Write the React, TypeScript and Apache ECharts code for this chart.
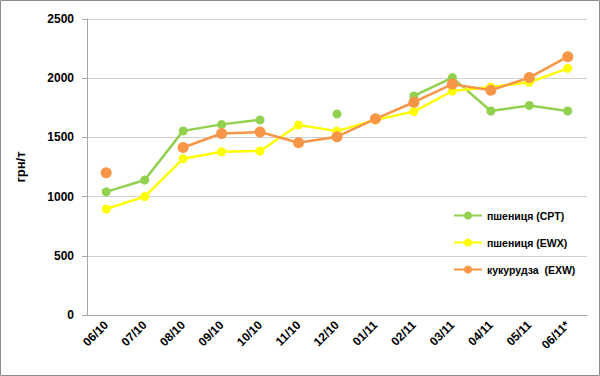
import React, { useEffect, useRef } from "react";
import * as echarts from "echarts";

const categories = ["06/10", "07/10", "08/10", "09/10", "10/10", "11/10", "12/10", "01/11", "02/11", "03/11", "04/11", "05/11", "06/11*"];
const wheatCPT: (number | null)[] = [1040, 1140, 1555, 1610, 1648, null, 1698, null, 1850, 2005, 1723, 1770, 1723];
const wheatEWX: (number | null)[] = [895, 1000, 1320, 1378, 1385, 1605, 1553, 1648, 1718, 1892, 1925, 1965, 2083];
const cornEXW: (number | null)[] = [1202, null, 1415, 1533, 1545, 1455, 1506, 1657, 1797, 1950, 1898, 2005, 2182];
const yTicks = { min: 0, max: 2500, interval: 500 };

export default function App() {
  const ref = useRef<HTMLDivElement>(null);
  useEffect(() => {
    if (!ref.current) return;
    const chart = echarts.init(ref.current, null, { renderer: "svg" });
    const font = "'Liberation Sans', Arial, sans-serif";
    chart.setOption({
      animation: false,
      backgroundColor: "#ffffff",
      textStyle: { fontFamily: font },
      graphic: [
        {
          type: "rect",
          shape: { x: 0.5, y: 0.5, width: 599, height: 375 },
          style: { fill: "none", stroke: "#8c8c8c", lineWidth: 1 },
          silent: true,
        },
      ],
      grid: { left: 87, right: 13, top: 19, bottom: 61, containLabel: false },
      legend: {
        orient: "vertical",
        left: 448,
        top: 205,
        itemWidth: 28,
        itemHeight: 10,
        itemGap: 16,
        textStyle: { fontSize: 10.5, fontWeight: "bold", color: "#000", fontFamily: font },
        data: ["пшениця (CPT)", "пшениця (EWX)", "кукурудза  (EXW)"],
      },
      xAxis: {
        type: "category",
        data: categories,
        boundaryGap: true,
        axisLine: { lineStyle: { color: "#a6a6a6", width: 1 } },
        axisTick: { show: false },
        axisLabel: { rotate: 45, fontSize: 12, fontWeight: "bold", color: "#000", margin: 8, interval: 0, fontFamily: font },
      },
      yAxis: {
        type: "value",
        min: yTicks.min,
        max: yTicks.max,
        interval: yTicks.interval,
        name: "грн/т",
        nameLocation: "middle",
        nameGap: 60,
        nameRotate: 90,
        nameTextStyle: { fontSize: 13, fontWeight: "bold", color: "#000", fontFamily: font },
        axisLine: { show: true, lineStyle: { color: "#a6a6a6", width: 1 } },
        axisTick: { show: true, length: 5, lineStyle: { color: "#a6a6a6" } },
        axisLabel: {
          fontSize: 12,
          fontWeight: "bold",
          color: "#000",
          margin: 13,
          fontFamily: font,
          formatter: (v: number) => String(v),
        },
        splitLine: { lineStyle: { color: "#d0d0d0", width: 1 } },
      },
      series: [
        {
          name: "пшениця (CPT)",
          type: "line",
          data: wheatCPT,
          connectNulls: false,
          symbol: "circle",
          symbolSize: 9,
          showSymbol: true,
          showAllSymbol: true,
          itemStyle: { color: "#92D050" },
          lineStyle: { color: "#92D050", width: 2.5 },
        },
        {
          name: "пшениця (EWX)",
          type: "line",
          data: wheatEWX,
          connectNulls: false,
          symbol: "circle",
          symbolSize: 9,
          showAllSymbol: true,
          itemStyle: { color: "#FFFF00" },
          lineStyle: { color: "#FFFF00", width: 2.5 },
        },
        {
          name: "кукурудза  (EXW)",
          type: "line",
          data: cornEXW,
          connectNulls: false,
          symbol: "circle",
          symbolSize: 11,
          showAllSymbol: true,
          itemStyle: { color: "#F79646" },
          lineStyle: { color: "#F79646", width: 2.5 },
        },
      ],
    });
    return () => chart.dispose();
  }, []);
  return (
    <div
      ref={ref}
      style={{ position: "fixed", left: 0, top: 0, width: 600, height: 376 }}
    />
  );
}
